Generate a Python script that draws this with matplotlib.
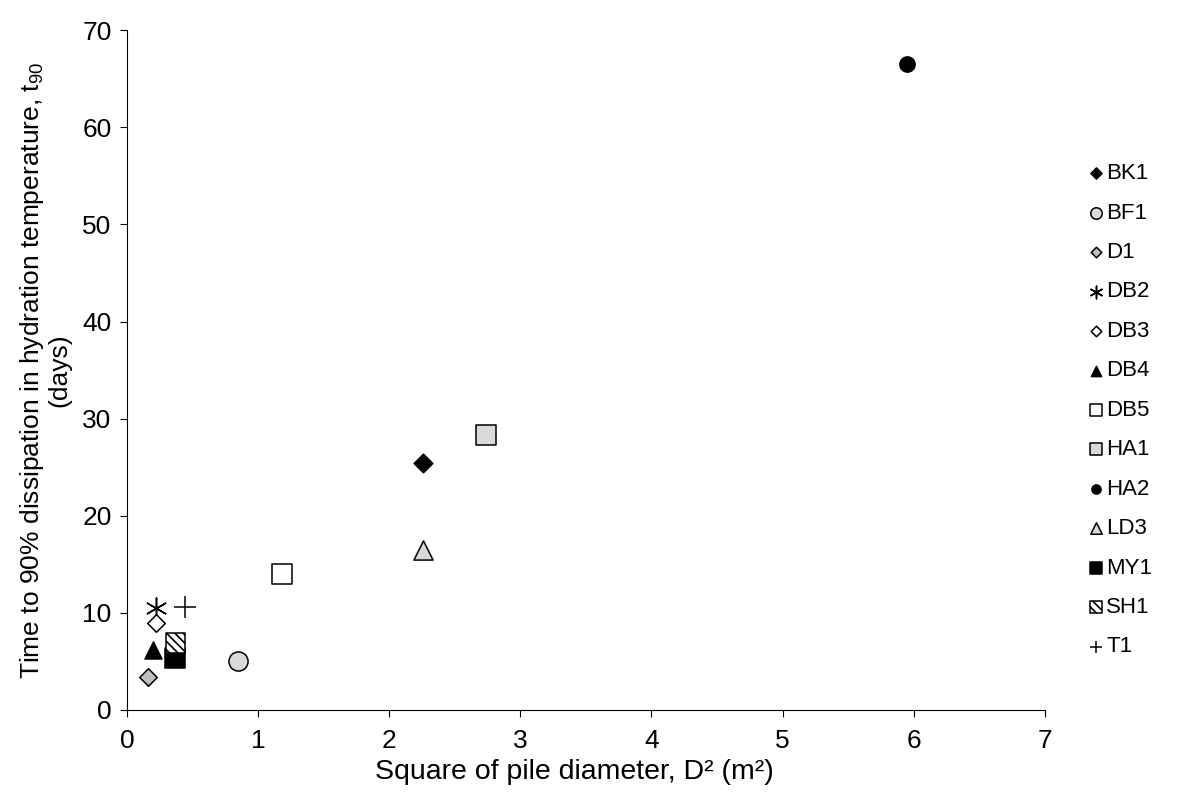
import matplotlib
matplotlib.use("Agg")
import matplotlib.pyplot as plt

plt.rcParams['font.family'] = ['Liberation Sans', 'DejaVu Sans']
plt.rcParams['mathtext.default'] = 'regular'
plt.rcParams['hatch.linewidth'] = 1.2

# Pile data: D^2 (m^2) and t90 (days)
piles = ["BK1", "BF1", "D1", "DB2", "DB3", "DB4", "DB5", "HA1", "HA2", "LD3", "MY1", "SH1", "T1"]
d_sq = [2.26, 0.85, 0.16, 0.22, 0.22, 0.20, 1.18, 2.74, 5.95, 2.26, 0.37, 0.37, 0.44]
t90 = [25.4, 5.0, 3.4, 10.5, 9.0, 6.2, 14.0, 28.3, 66.5, 16.5, 5.35, 6.9, 10.6]

# marker, facecolor, hatch, size
styles = {
    "BK1": ("D", "black", None, 90),
    "BF1": ("o", "#d9d9d9", None, 190),
    "D1": ("D", "#bfbfbf", None, 80),
    "DB2": ((6, 2, 0), "black", None, 230),
    "DB3": ("D", "white", None, 80),
    "DB4": ("^", "black", None, 150),
    "DB5": ("s", "white", None, 190),
    "HA1": ("s", "#d9d9d9", None, 190),
    "HA2": ("o", "black", None, 120),
    "LD3": ("^", "#d9d9d9", None, 190),
    "MY1": ("s", "black", None, 190),
    "SH1": ("s", "white", "\\\\\\\\", 190),
    "T1": ("+", "black", None, 230),
}

fig = plt.figure(figsize=(12.01, 7.95), dpi=100)
ax = fig.add_axes([0.1057, 0.107, 0.7643, 0.855])

for name, x, y in zip(piles, d_sq, t90):
    m, fc, h, s = styles[name]
    if m in ("+",) or isinstance(m, tuple):
        ax.scatter([x], [y], marker=m, s=s, color="black", linewidths=1.1, label=name, zorder=3)
    else:
        ax.scatter([x], [y], marker=m, s=s, facecolor=fc, edgecolor="black",
                   hatch=h, linewidths=1.1, label=name, zorder=3)

ax.set_xlim(0, 7)
ax.set_ylim(0, 70)
ax.set_xticks(range(0, 8))
ax.set_yticks(range(0, 71, 10))
ax.tick_params(direction="out", length=5, labelsize=19, colors="black")
ax.tick_params(axis="x", pad=8.5)
ax.tick_params(axis="y", pad=6)
ax.spines["top"].set_visible(False)
ax.spines["right"].set_visible(False)
ax.set_xlabel("Square of pile diameter, D\u00b2 (m\u00b2)", fontsize=20.5, labelpad=8)
ax.xaxis.set_label_coords(0.487, -0.072)
ax.set_ylabel("Time to 90% dissipation in hydration temperature, t$_{90}$\n(days)",
              fontsize=19, linespacing=1.05, labelpad=8)

leg = fig.legend(loc="upper left", bbox_to_anchor=(0.897, 0.806), frameon=False,
                 fontsize=16, markerscale=0.6, handletextpad=0.0, labelspacing=0.83,
                 borderaxespad=0, handlelength=0.9)

fig.savefig("out.png", dpi=100)
